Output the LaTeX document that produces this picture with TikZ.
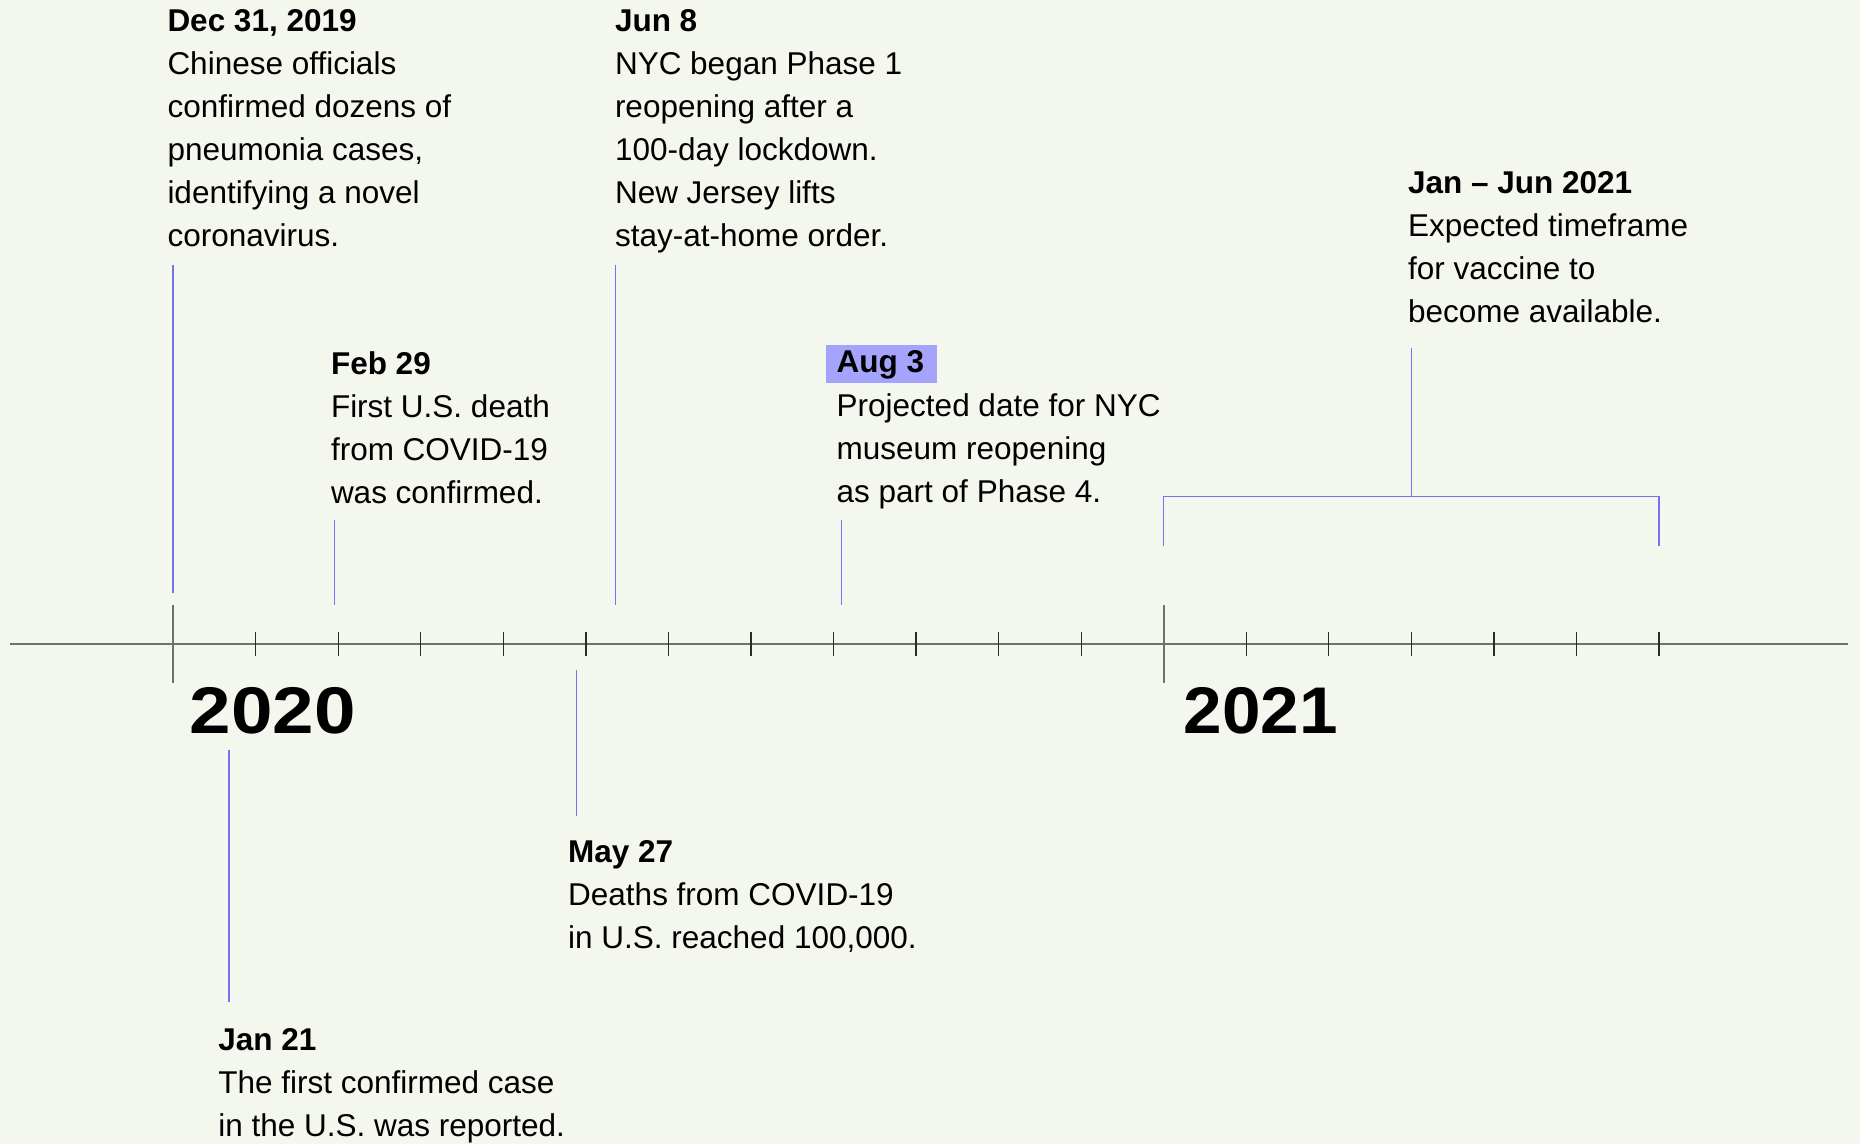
\documentclass[tikz,border=0pt]{standalone}
\usepackage{fontspec}
\setmainfont{Liberation Sans}

\definecolor{paper}{HTML}{F4F7EE}
\definecolor{linkblue}{HTML}{7474F2}
\definecolor{hilite}{HTML}{A4A4FC}
\definecolor{axisgray}{HTML}{6E726B}
\definecolor{tickdark}{HTML}{2A2C28}

\tikzset{
  evtext/.style={anchor=base west, inner sep=0pt, outer sep=0pt,
    font=\fontsize{31.5}{43}\selectfont},
  yeartext/.style={anchor=base west, inner sep=0pt, outer sep=0pt,
    font=\fontsize{66}{70}\selectfont\bfseries},
  linkline/.style={draw=linkblue, line width=1.5pt},
  axisline/.style={draw=axisgray, line width=2.2pt},
  majortick/.style={draw=axisgray, line width=1.8pt},
  minortick/.style={draw=tickdark, line width=1.3pt},
}

% bold heading on the first line, plain text below
\newcommand{\evblock}[2]{\begin{tabular}[t]{@{}l@{}}\textbf{#1}\\#2\end{tabular}}
\newcommand{\plainblock}[1]{\begin{tabular}[t]{@{}l@{}}#1\end{tabular}}

\begin{document}
\begin{tikzpicture}[x=1pt, y=-1pt]
  % page
  \fill[paper] (0,0) rectangle (1860,1144);
  \useasboundingbox (0,0) rectangle (1860,1144);

  % ---- time axis ----
  \coordinate (axL) at (9.5,644);
  \coordinate (axR) at (1848,644);
  \draw[axisline] (axL) -- (axR);

  % month ticks (one every 82.54 units, year starts are longer)
  \foreach \i in {1,...,11,13,14,15,16,17,18}{
    \draw[minortick] ({173.2+\i*82.54},632) -- ({173.2+\i*82.54},656);
  }
  \coordinate (y20top) at (173.2,605);
  \coordinate (y20bot) at (173.2,683);
  \coordinate (y21top) at (1163.7,605);
  \coordinate (y21bot) at (1163.7,683);
  \draw[majortick] (y20top) -- (y20bot);
  \draw[majortick] (y21top) -- (y21bot);

  % ---- year labels ----
  \node[yeartext] (yr2020) at (189.8,733) {\scalebox{1.13}[1]{2020}};
  \node[yeartext] (yr2021) at (1183.8,733) {\scalebox{1.05}[1]{2021}};

  % ---- events above the axis ----
  \node[evtext] (dec31) at (167.5,31) {\evblock{Dec 31, 2019}{Chinese officials\\confirmed dozens of\\pneumonia cases,\\identifying a novel\\coronavirus.}};
  \coordinate (dec31a) at (173.2,264.5);
  \coordinate (dec31b) at (173.2,593);
  \draw[linkline] (dec31a) -- (dec31b);

  \node[evtext] (feb29) at (331,374) {\evblock{Feb 29}{First U.S. death\\from COVID-19\\was confirmed.}};
  \coordinate (feb29a) at (334.5,519.5);
  \coordinate (feb29b) at (334.5,605);
  \draw[linkline] (feb29a) -- (feb29b);

  \node[evtext] (jun8) at (615,31) {\evblock{Jun 8}{NYC began Phase 1\\reopening after a\\100-day lockdown.\\New Jersey lifts\\stay-at-home order.}};
  \coordinate (jun8a) at (615.6,264.5);
  \coordinate (jun8b) at (615.6,605);
  \draw[linkline] (jun8a) -- (jun8b);

  \fill[hilite] (825.6,345.2) rectangle (936.9,383.4);
  \node[evtext] (aug3head) at (836.7,372.7) {\textbf{Aug 3}};
  \node[evtext] (aug3) at (836.7,416.7) {\plainblock{Projected date for NYC\\museum reopening\\as part of Phase 4.}};
  \coordinate (aug3a) at (841.7,520);
  \coordinate (aug3b) at (841.7,605);
  \draw[linkline] (aug3a) -- (aug3b);

  \node[evtext] (h2021) at (1408,193.5) {\evblock{Jan -- Jun 2021}{Expected timeframe\\for vaccine to\\become available.}};
  \coordinate (brStem) at (1411.5,347.6);
  \coordinate (brMid) at (1411.5,496.5);
  \coordinate (brL) at (1163.7,496.5);
  \coordinate (brR) at (1659,496.5);
  \coordinate (brLd) at (1163.7,546);
  \coordinate (brRd) at (1659,546);
  \draw[linkline] (brStem) -- (brMid);
  \draw[linkline, line join=miter] (brLd) -- (brL) -- (brR) -- (brRd);

  % ---- events below the axis ----
  \coordinate (jan21a) at (229,749.7);
  \coordinate (jan21b) at (229,1002.3);
  \draw[linkline] (jan21a) -- (jan21b);
  \node[evtext] (jan21) at (218.3,1050) {\evblock{Jan 21}{The first confirmed case\\in the U.S. was reported.}};

  \coordinate (may27a) at (576.5,670);
  \coordinate (may27b) at (576.5,816);
  \draw[linkline] (may27a) -- (may27b);
  \node[evtext] (may27) at (568.2,862.4) {\evblock{May 27}{Deaths from COVID-19\\in U.S. reached 100,000.}};
\end{tikzpicture}
\end{document}
